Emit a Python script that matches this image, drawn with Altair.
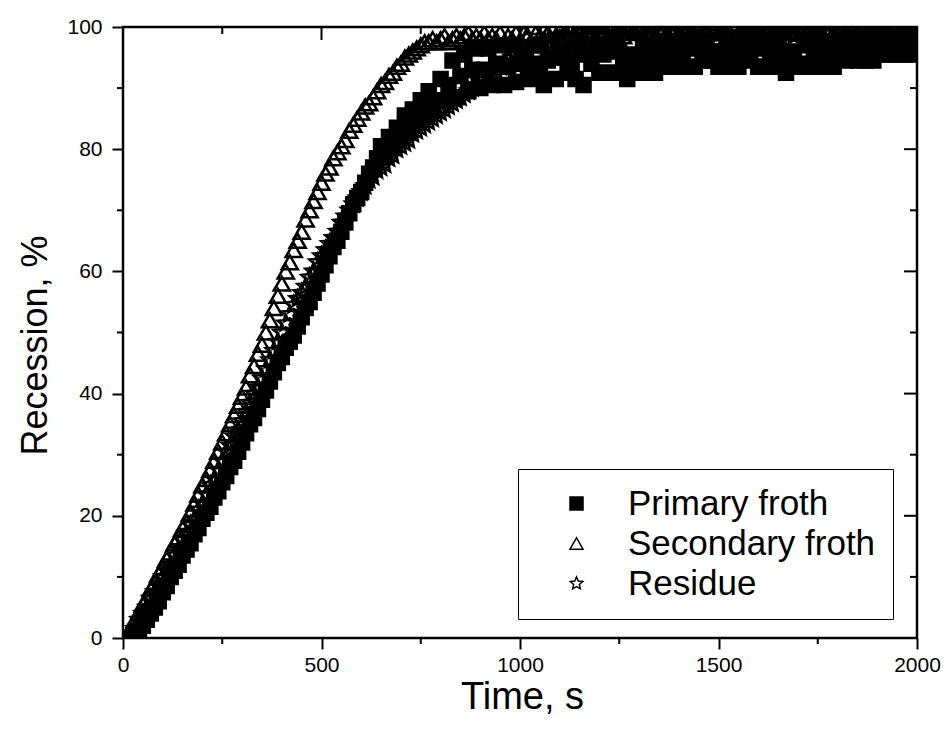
import altair as alt
import pandas as pd

# ---------------- data ----------------
time_s = [
    0, 10, 20, 30, 40, 50, 60, 70, 80, 90, 100, 110, 120, 130, 140, 150, 160, 170, 180, 190,
    200, 210, 220, 230, 240, 250, 260, 270, 280, 290, 300, 310, 320, 330, 340, 350, 360, 370, 380, 390,
    400, 410, 420, 430, 440, 450, 460, 470, 480, 490, 500, 510, 520, 530, 540, 550, 560, 570, 580, 590,
    600, 610, 620, 630, 640, 650, 660, 670, 680, 690, 700, 710, 720, 730, 740, 750, 760, 770, 780, 790,
    800, 810, 820, 830, 840, 850, 860, 870, 880, 890, 900, 910, 920, 930, 940, 950, 960, 970, 980, 990,
    1000, 1010, 1020, 1030, 1040, 1050, 1060, 1070, 1080, 1090, 1100, 1110, 1120, 1130, 1140, 1150, 1160, 1170, 1180, 1190,
    1200, 1210, 1220, 1230, 1240, 1250, 1260, 1270, 1280, 1290, 1300, 1310, 1320, 1330, 1340, 1350, 1360, 1370, 1380, 1390,
    1400, 1410, 1420, 1430, 1440, 1450, 1460, 1470, 1480, 1490, 1500, 1510, 1520, 1530, 1540, 1550, 1560, 1570, 1580, 1590,
    1600, 1610, 1620, 1630, 1640, 1650, 1660, 1670, 1680, 1690, 1700, 1710, 1720, 1730, 1740, 1750, 1760, 1770, 1780, 1790,
    1800, 1810, 1820, 1830, 1840, 1850, 1860, 1870, 1880, 1890, 1900, 1910, 1920, 1930, 1940, 1950, 1960, 1970, 1980, 1990,
    2000,
]

primary_froth = [
    0, 0, 0, 0.5, 1, 2, 3, 4, 5, 6,
    7.5, 8.5, 10, 11, 12, 13.5, 14.5, 15.5, 17, 18,
    19.5, 20.5, 21.5, 23, 24, 25.5, 26.5, 28, 29, 30.5,
    32, 33.5, 35, 36, 37.5, 39, 40.5, 42, 43.5, 45,
    46, 47.5, 48.5, 49.5, 51, 52.5, 54, 55, 56.5, 58,
    59.5, 61, 62.5, 64, 65, 66.5, 68, 69.5, 71, 72,
    73, 74.5, 76, 77, 78.5, 80.5, 79, 82, 80.5, 83.5,
    82, 85.5, 83, 86.5, 84.5, 88, 85.5, 89.5, 86.5, 88,
    91.5, 88, 90.5, 94.5, 88.5, 92, 95.5, 89.5, 93, 96.5,
    90, 93, 96.5, 90.5, 94, 97, 90.5, 93.5, 97, 91,
    94,
    95.5, 91.5, 94, 97, 92, 90.5, 94.5, 95, 91.5, 95,
    96, 92.5, 94, 91.5, 96.5, 90.5, 95.5, 94, 97, 92.5,
    95.5, 92.5, 97, 92.5, 96, 93.5, 91.5, 95.5, 95, 92.5,
    96.5, 92.5, 95, 92.5, 97, 93.5, 96, 93.5, 97.5, 93.5,
    95.5, 93.5, 97, 93.5, 96.5, 94.5, 97.5, 94.5, 96, 93.5,
    96, 97, 93.5, 96, 93.5, 97.5, 95.5, 94.5, 97, 93.5,
    96.5, 93.5, 95.5, 93.5, 97, 95, 92.5, 95.5, 96, 94,
    93.5, 97, 93.5, 96, 93.5, 97.5, 93.5, 95.5, 93.5, 97,
    95.5, 94.5, 96.5, 97.5, 94.5, 96.5, 94.5, 98, 94.5, 97,
    95.5, 98, 95.5, 97, 95.5, 98, 95.5, 97.5, 95.5, 98,
]

secondary_froth = [
    0, 0.5, 1.5, 3, 4, 5.5, 6.5, 8, 9, 10.5,
    11.5, 13, 14, 15.5, 16.5, 18, 19, 20.5, 22, 23.5,
    25, 26, 27.5, 29, 30.5, 32, 33.5, 35, 36.5, 38,
    39.5, 41, 43, 44.5, 46.5, 48, 50, 52, 54, 56,
    58, 60, 61.5, 63.5, 65, 66.5, 68.5, 70, 71.5, 73,
    74.5, 76, 77, 78.5, 79.5, 80.5, 81.5, 83, 84, 85,
    86, 87, 87.5, 88.5, 89.5, 90.5, 91, 92, 92.5, 93.5,
    94, 95, 95.5, 96, 96.5, 97, 97.5, 97.5, 98, 97.5,
    98, 98.5, 97.5, 98, 98.5, 98, 98.5, 99, 98, 98.5,
    98, 99, 98, 98.5, 98, 99, 97.5, 98.5, 98, 99,
    97.5,
    99, 98.5, 100, 99, 98.5, 99.5, 99, 100, 98.5, 99.5,
    99, 100, 99.5, 98.5, 99, 100, 99.5, 99, 100, 99.5,
    99, 100, 99.5, 99, 100, 98.5, 99.5, 100, 99, 99.5,
    100, 99, 99.5, 98.5, 100, 99.5, 99, 100, 99.5, 99,
    100, 99.5, 99, 100, 99.5, 98.5, 99, 100, 99.5, 99,
    100, 99.5, 99, 100, 98.5, 99.5, 100, 99, 99.5, 100,
    99, 99.5, 100, 99, 98.5, 99.5, 100, 99.5, 99, 100,
    99.5, 99, 100, 99.5, 98.5, 99, 100, 99.5, 99, 100,
    99.5, 99, 100, 99.5, 99, 100, 98.5, 99.5, 100, 99,
    99.5, 100, 99, 99.5, 100, 99, 98.5, 99.5, 100, 99.5,
]

residue = [
    0, 0, 0.5, 1.5, 3, 4, 5, 6.5, 7.5, 8.5,
    10, 11, 12, 13.5, 14.5, 16, 17, 18.5, 19.5, 21,
    22, 23.5, 25, 26, 27.5, 29, 30.5, 31.5, 33, 34,
    35.5, 37, 38.5, 40, 41, 42.5, 44, 45.5, 47, 48.5,
    50, 51.5, 53, 54.5, 55.5, 56.5, 57.5, 59, 60, 61.5,
    62.5, 63.5, 64.5, 65.5, 66.5, 68, 69, 70, 71, 72,
    73, 74, 75, 75.5, 76.5, 77, 77.5, 78.5, 79, 80,
    80.5, 81, 81.5, 82.5, 83, 83.5, 84, 84.5, 85, 85.5,
    86, 86.5, 87, 87.5, 88, 88.5, 89, 89.5, 90, 90.5,
    91, 91.5, 92, 92.5, 93, 93.5, 94, 94.5, 95, 95.5,
    96,
    96.5, 96.5, 97, 97, 97, 97.5, 97.5, 97.5, 98, 98,
    98, 98.5, 98, 98.5, 98.5, 99, 98.5, 99, 99, 98.5,
    99, 99, 99.5, 99, 98.5, 99, 99.5, 99, 99, 99.5,
    99, 98.5, 99, 99.5, 99, 99, 99.5, 99, 99, 99.5,
    99, 99.5, 99, 99, 99.5, 99, 98.5, 99, 99.5, 99,
    99.5, 99, 99, 99.5, 99, 99, 99.5, 99, 99.5, 99,
    99, 99.5, 99, 99.5, 99, 99, 99.5, 99, 98.5, 99,
    99.5, 99, 99.5, 99, 99, 99.5, 99, 99, 99.5, 99,
    99.5, 99, 99, 99.5, 99, 99.5, 99, 99, 99.5, 99,
    99.5, 99, 99, 99.5, 99, 99, 99.5, 99, 99.5, 99,
]

series_names = ["Primary froth", "Secondary froth", "Residue"]
x_major = [0, 500, 1000, 1500, 2000]
x_minor = [250, 750, 1250, 1750]
y_major = [0, 20, 40, 60, 80, 100]
y_minor = [10, 30, 50, 70, 90]

# ---------------- layout / style ----------------
W, H = 794, 611
FONT = "Liberation Sans"
STAR = ("M0,-1L0.27,-0.37L0.951,-0.309L0.44,0.14L0.588,0.809L0,0.46"
        "L-0.588,0.809L-0.44,0.14L-0.951,-0.309L-0.27,-0.37Z")

def series_df(name, values):
    return pd.DataFrame({"t": time_s, "r": values, "series": name})

df_p = series_df("Primary froth", primary_froth)
df_s = series_df("Secondary froth", secondary_froth)
df_r = series_df("Residue", residue)

xscale = alt.Scale(domain=[0, 2000], nice=False, zero=False)
yscale = alt.Scale(domain=[0, 100], nice=False, zero=False)

xaxis = alt.Axis(values=x_major, format="d", tickSize=11, tickWidth=2, tickColor="black",
                 domain=False, grid=False, labelFont=FONT, labelFontSize=21,
                 labelColor="black", labelPadding=5, labelFlush=False,
                 titleFont=FONT, titleFontSize=38, titleFontWeight="normal",
                 titleColor="black", titleX=399, titleY=70,
                 titleBaseline="alphabetic")
yaxis = alt.Axis(values=y_major, format="d", tickSize=11, tickWidth=2, tickColor="black",
                 domain=False, grid=False, labelFont=FONT, labelFontSize=21,
                 labelColor="black", labelPadding=10, labelFlush=False,
                 titleFont=FONT, titleFontSize=36, titleFontWeight="normal",
                 titleColor="black", titleX=-77, titleY=318, titleAngle=270,
                 titleBaseline="alphabetic")

def X(field):
    return alt.X(field, type="quantitative", scale=xscale, axis=xaxis, title="Time, s")

def Y(field):
    return alt.Y(field, type="quantitative", scale=yscale, axis=yaxis, title="Recession, %")

shape_scale = alt.Scale(domain=series_names, range=["square", "triangle-up", STAR])
fill_scale = alt.Scale(domain=series_names, range=["black", "transparent", "transparent"])
stroke_scale = alt.Scale(domain=series_names, range=["black", "black", "black"])
leg = alt.Legend(orient="none", legendX=395, legendY=442, title=None,
                 strokeColor="black", fillColor="white", padding=17,
                 labelFont=FONT, labelFontSize=35, labelColor="black", labelLimit=0,
                 rowPadding=4, symbolOffset=24, labelOffset=34,
                 symbolSize=170, symbolStrokeWidth=1.5)

def points(df, size, sw):
    return alt.Chart(df).mark_point(clip=True, size=size, strokeWidth=sw, opacity=1).encode(
        x=X("t"), y=Y("r"),
        shape=alt.Shape("series:N", scale=shape_scale, legend=leg),
        fill=alt.Fill("series:N", scale=fill_scale, legend=leg),
        stroke=alt.Stroke("series:N", scale=stroke_scale, legend=leg),
    )

def tick_df(vals):
    return pd.DataFrame({"v": vals})

rule_kw = dict(color="black", strokeWidth=2)
top_major = alt.Chart(tick_df(x_major)).mark_rule(**rule_kw).encode(
    x=X("v"), y=alt.value(0), y2=alt.value(13))
top_minor = alt.Chart(tick_df(x_minor)).mark_rule(**rule_kw).encode(
    x=X("v"), y=alt.value(0), y2=alt.value(7))
bottom_minor = alt.Chart(tick_df(x_minor)).mark_rule(**rule_kw).encode(
    x=X("v"), y=alt.value(H), y2=alt.value(H + 6))
right_major = alt.Chart(tick_df(y_major)).mark_rule(**rule_kw).encode(
    y=Y("v"), x=alt.value(W - 13), x2=alt.value(W))
right_minor = alt.Chart(tick_df(y_minor)).mark_rule(**rule_kw).encode(
    y=Y("v"), x=alt.value(W - 7), x2=alt.value(W))
left_minor = alt.Chart(tick_df(y_minor)).mark_rule(**rule_kw).encode(
    y=Y("v"), x=alt.value(-6), x2=alt.value(0))

chart = alt.layer(
    points(df_s, 260, 2.5), points(df_r, 290, 2.5), points(df_p, 225, 1.5),
    top_major, top_minor, bottom_minor, right_major, right_minor, left_minor,
).properties(
    width=W, height=H,
    autosize=alt.AutoSizeParams(type="none"),
    padding={"left": 123, "top": 27, "right": 29, "bottom": 98},
).configure_view(
    stroke="black", strokeWidth=2.5
)

chart.save("out.html", embed_options={"renderer": "svg", "actions": False})
